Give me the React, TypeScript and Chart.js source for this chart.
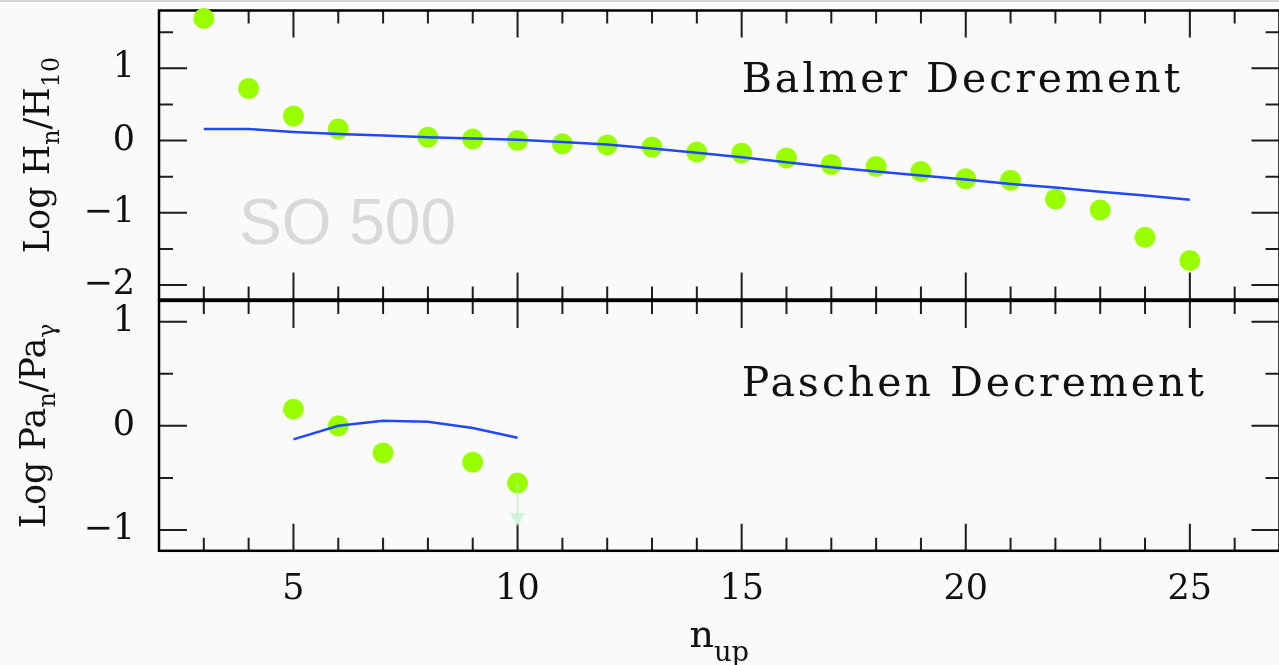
import React, { useEffect, useRef } from 'react';
import { Chart, registerables } from 'chart.js';
Chart.register(...registerables);

// ---------- data ----------
const balmerN = [3, 4, 5, 6, 8, 9, 10, 11, 12, 13, 14, 15, 16, 17, 18, 19, 20, 21, 22, 23, 24, 25];
const balmerObs = [1.69, 0.72, 0.34, 0.16, 0.045, 0.02, 0.0, -0.045, -0.06, -0.09, -0.16, -0.175, -0.24, -0.33, -0.36, -0.43, -0.53, -0.55, -0.81, -0.96, -1.34, -1.66];
const balmerModelN = [3, 4, 5, 6, 7, 8, 9, 10, 11, 12, 13, 14, 15, 16, 17, 18, 19, 20, 21, 22, 23, 24, 25];
const balmerModel = [0.16, 0.16, 0.12, 0.09, 0.07, 0.045, 0.03, 0.01, -0.02, -0.055, -0.11, -0.17, -0.23, -0.3, -0.37, -0.43, -0.485, -0.54, -0.6, -0.65, -0.71, -0.76, -0.82];

const paschenN = [5, 6, 7, 9, 10];
const paschenObs = [0.16, 0.0, -0.26, -0.35, -0.55];
const paschenModelN = [5, 6, 7, 8, 9, 10];
const paschenModel = [-0.13, 0.0, 0.05, 0.04, -0.02, -0.115];
const paschenLimitN = [10, 10];
const paschenLimit = [-0.55, -0.88];

const xMajorTicks = [5, 10, 15, 20, 25];
const xMinorTicks = [3, 4, 6, 7, 8, 9, 11, 12, 13, 14, 16, 17, 18, 19, 21, 22, 23, 24, 26];
const balmerYMajor = [-2, -1, 0, 1];
const balmerYMinor = [-1.5, -0.5, 0.5, 1.5];
const paschenYMajor = [-1, 0, 1];
const paschenYMinor = [-0.5, 0.5];

const X_MIN = 2;
const X_MAX = 27;

// ---------- helpers ----------
const SERIF = '"DejaVu Serif", "Liberation Serif", serif';
const fmt = (v: number) => (v < 0 ? '\u2212' + Math.abs(v) : String(v));
const pts = (xs: number[], ys: number[]) => xs.map((x, i) => ({ x, y: ys[i] }));

type Part = { t: string; sub?: boolean };

function drawRich(ctx: CanvasRenderingContext2D, parts: Part[], size: number, subScale: number, subShift: number) {
  const widths = parts.map((p) => {
    ctx.font = `${p.sub ? size * subScale : size}px ${SERIF}`;
    return ctx.measureText(p.t).width;
  });
  const total = widths.reduce((a, b) => a + b, 0);
  let x = -total / 2;
  parts.forEach((p, i) => {
    ctx.font = `${p.sub ? size * subScale : size}px ${SERIF}`;
    ctx.fillText(p.t, x, p.sub ? size * subShift : 0);
    x += widths[i];
  });
}

function makeFramePlugin(cfg: any) {
  return {
    id: 'frame_' + cfg.key,
    beforeDatasetsDraw(chart: any) {
      const { ctx, chartArea: a } = chart;
      const xs = chart.scales.x;
      const ys = chart.scales.y;
      ctx.save();
      if (cfg.watermark) {
        ctx.font = '64px "Liberation Sans", Arial, sans-serif';
        ctx.fillStyle = '#d9d9d9';
        ctx.textAlign = 'left';
        ctx.textBaseline = 'alphabetic';
        ctx.fillText(cfg.watermark.text, xs.getPixelForValue(cfg.watermark.x), ys.getPixelForValue(cfg.watermark.y));
      }
      ctx.strokeStyle = '#1e1e1e';
      ctx.lineWidth = 2;
      ctx.beginPath();
      const xt = (vals: number[], len: number) =>
        vals.forEach((v) => {
          const p = xs.getPixelForValue(v);
          ctx.moveTo(p, a.top);
          ctx.lineTo(p, a.top + len);
          ctx.moveTo(p, a.bottom);
          ctx.lineTo(p, a.bottom - len);
        });
      const yt = (vals: number[], len: number) =>
        vals.forEach((v) => {
          const p = ys.getPixelForValue(v);
          ctx.moveTo(a.left, p);
          ctx.lineTo(a.left + len, p);
          ctx.moveTo(a.right, p);
          ctx.lineTo(a.right - len, p);
        });
      xt(xMajorTicks, 27);
      xt(xMinorTicks, 13);
      yt(cfg.yMajor, 28);
      yt(cfg.yMinor, 14);
      ctx.stroke();
      ctx.strokeStyle = '#000';
      ctx.lineWidth = 2.5;
      ctx.strokeRect(a.left, a.top, a.right - a.left, a.bottom - a.top);
      ctx.restore();
    },
    afterDraw(chart: any) {
      const { ctx, chartArea: a } = chart;
      const xs = chart.scales.x;
      const ys = chart.scales.y;
      ctx.save();
      ctx.fillStyle = '#111';
      ctx.textAlign = 'left';
      ctx.textBaseline = 'alphabetic';
      // panel label
      ctx.font = `41px ${SERIF}`;
      (ctx as any).letterSpacing = '3px';
      ctx.fillText(cfg.label.text, xs.getPixelForValue(cfg.label.x), ys.getPixelForValue(cfg.label.y));
      (ctx as any).letterSpacing = '0px';
      // y title (rotated)
      ctx.save();
      ctx.translate(cfg.yTitleX, (a.top + a.bottom) / 2);
      ctx.rotate(-Math.PI / 2);
      drawRich(ctx, cfg.yTitle, 35, 0.68, 0.28);
      ctx.restore();
      // x title
      if (cfg.xTitle) {
        ctx.save();
        ctx.translate((a.left + a.right) / 2, cfg.xTitleY);
        drawRich(ctx, cfg.xTitle, 38, 0.72, 0.36);
        ctx.restore();
      }
      ctx.restore();
    },
  };
}

const tickFont = { family: SERIF, size: 35 };

function yScale(min: number, max: number, major: number[]) {
  return {
    type: 'linear',
    min,
    max,
    grid: { display: false, drawTicks: false },
    border: { display: false },
    afterBuildTicks: (s: any) => {
      s.ticks = major.map((v) => ({ value: v }));
    },
    afterFit: (s: any) => {
      s.width = 159;
      s.paddingTop = 0;
      s.paddingBottom = 0;
    },
    ticks: { font: tickFont, color: '#111', padding: 24, callback: (v: any) => fmt(Number(v)) },
  };
}

function TopPanel() {
  const ref = useRef<HTMLCanvasElement>(null);
  useEffect(() => {
    const chart = new Chart(ref.current as HTMLCanvasElement, {
      type: 'scatter',
      data: {
        datasets: [
          {
            data: pts(balmerModelN, balmerModel),
            showLine: true,
            borderColor: '#1f48ff',
            borderWidth: 2.5,
            pointRadius: 0,
            fill: false,
          },
          {
            data: pts(balmerN, balmerObs),
            pointRadius: 10.5,
            pointHoverRadius: 10.5,
            backgroundColor: '#99ff00',
            borderWidth: 0,
            clip: false,
          },
        ],
      } as any,
      options: {
        responsive: false,
        animation: false,
        events: [],
        layout: { padding: { left: 0, top: 8.3, right: 8.7, bottom: 9.7 } },
        plugins: { legend: { display: false }, tooltip: { enabled: false } },
        scales: {
          x: { type: 'linear', min: X_MIN, max: X_MAX, display: false },
          y: yScale(-2.2, 1.8, balmerYMajor),
        } as any,
      },
      plugins: [
        makeFramePlugin({
          key: 'top',
          yMajor: balmerYMajor,
          yMinor: balmerYMinor,
          label: { text: 'Balmer Decrement', x: 15, y: 0.674 },
          yTitle: [{ t: 'Log H' }, { t: 'n', sub: true }, { t: '/H' }, { t: '10', sub: true }],
          yTitleX: 49,
          watermark: { text: 'SO 500', x: 3.785, y: -1.438 },
        }),
      ],
    });
    return () => chart.destroy();
  }, []);
  return <canvas ref={ref} width={1290} height={310} style={{ position: 'absolute', left: 0, top: 0, display: 'block' }} />;
}

function BottomPanel() {
  const ref = useRef<HTMLCanvasElement>(null);
  useEffect(() => {
    const chart = new Chart(ref.current as HTMLCanvasElement, {
      type: 'scatter',
      data: {
        datasets: [
          {
            data: pts(paschenLimitN, paschenLimit),
            showLine: true,
            borderColor: 'rgba(170,238,190,0.55)',
            borderWidth: 2,
            pointRadius: [0, 9],
            pointStyle: 'triangle',
            rotation: 180,
            pointBackgroundColor: 'rgba(185,242,200,0.6)',
            pointBorderWidth: 0,
            clip: false,
          },
          {
            data: pts(paschenModelN, paschenModel),
            showLine: true,
            borderColor: '#1f48ff',
            borderWidth: 2.5,
            pointRadius: 0,
            fill: false,
          },
          {
            data: pts(paschenN, paschenObs),
            pointRadius: 10.5,
            pointHoverRadius: 10.5,
            backgroundColor: '#99ff00',
            borderWidth: 0,
            clip: false,
          },
        ],
      } as any,
      options: {
        responsive: false,
        animation: false,
        events: [],
        layout: { padding: { left: 0, top: 10.9, right: 8.7, bottom: 0 } },
        plugins: { legend: { display: false }, tooltip: { enabled: false } },
        scales: {
          x: {
            type: 'linear',
            min: X_MIN,
            max: X_MAX,
            grid: { display: false, drawTicks: false },
            border: { display: false },
            afterBuildTicks: (s: any) => {
              s.ticks = xMajorTicks.map((v) => ({ value: v }));
            },
            afterFit: (s: any) => {
              s.height = 114.2;
              s.paddingLeft = 0;
              s.paddingRight = 0;
            },
            ticks: { font: tickFont, color: '#111', padding: 18, maxRotation: 0, autoSkip: false },
          },
          y: yScale(-1.2, 1.2, paschenYMajor),
        } as any,
      },
      plugins: [
        makeFramePlugin({
          key: 'bottom',
          yMajor: paschenYMajor,
          yMinor: paschenYMinor,
          label: { text: 'Paschen Decrement', x: 15, y: 0.285 },
          yTitle: [{ t: 'Log Pa' }, { t: 'n', sub: true }, { t: '/Pa' }, { t: '\u03b3', sub: true }],
          yTitleX: 45,
          xTitle: [{ t: 'n' }, { t: 'up', sub: true }],
          xTitleY: 357,
        }),
      ],
    });
    return () => chart.destroy();
  }, []);
  return <canvas ref={ref} width={1290} height={375} style={{ position: 'absolute', left: 0, top: 290, display: 'block' }} />;
}

export default function App() {
  return (
    <div
      style={{
        position: 'absolute',
        left: 0,
        top: 0,
        width: 1279,
        height: 665,
        overflow: 'hidden',
        background: '#fafafa',
      }}
    >
      <TopPanel />
      <BottomPanel />
      <div style={{ position: 'absolute', left: 0, top: 0, width: 1279, height: 2, background: '#d4d4d4' }} />
    </div>
  );
}
